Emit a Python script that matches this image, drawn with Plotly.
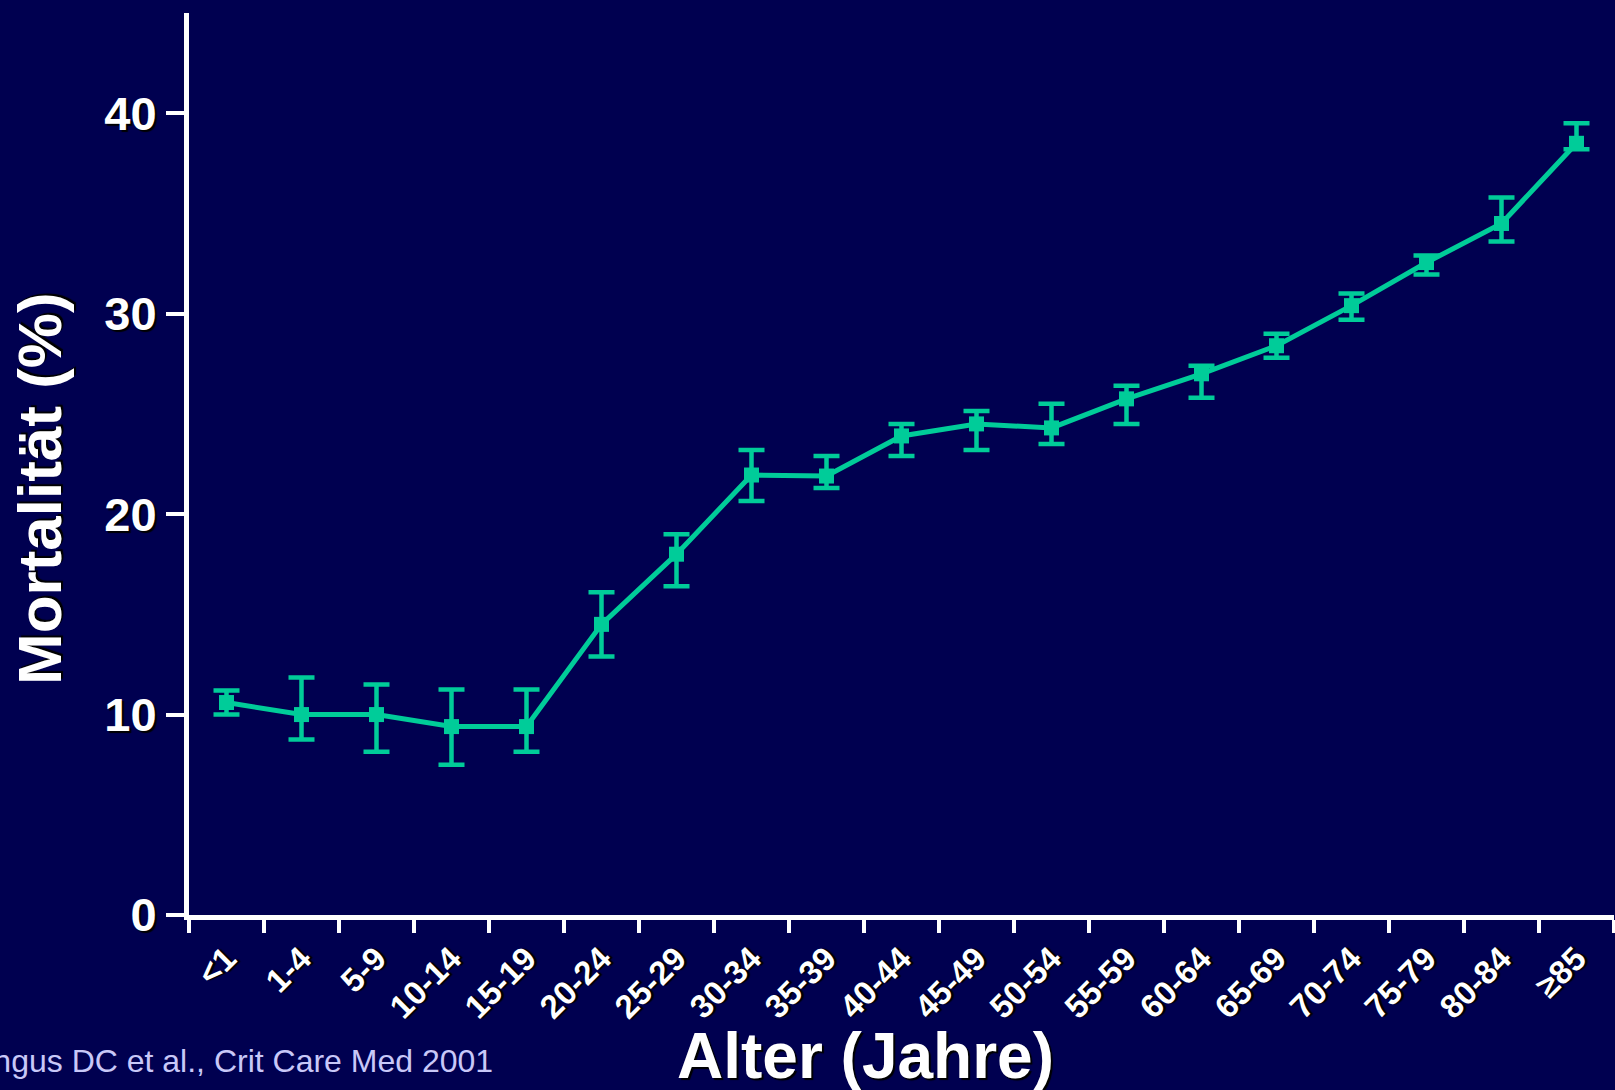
import plotly.graph_objects as go

categories = ["<1", "1-4", "5-9", "10-14", "15-19", "20-24", "25-29", "30-34", "35-39",
              "40-44", "45-49", "50-54", "55-59", "60-64", "65-69", "70-74", "75-79",
              "80-84", "≥85"]
mortality = [10.6, 10.0, 10.0, 9.4, 9.4, 14.5, 18.0, 21.95, 21.9, 23.9, 24.5, 24.3,
             25.75, 27.0, 28.4, 30.4, 32.55, 34.5, 38.5]
ci_upper = [11.2, 11.85, 11.5, 11.25, 11.25, 16.1, 19.0, 23.2, 22.9, 24.5, 25.15, 25.5,
            26.4, 27.4, 29.0, 31.0, 32.9, 35.8, 39.5]
ci_lower = [10.0, 8.75, 8.15, 7.5, 8.15, 12.9, 16.4, 20.65, 21.3, 22.9, 23.2, 23.5,
            24.5, 25.8, 27.8, 29.7, 31.95, 33.6, 38.2]
y_ticks = [0, 10, 20, 30, 40]

BG = "#000050"
TEAL = "#00CC99"
FONT = "Liberation Sans, Arial, sans-serif"
SHADOW = "2px 2px 1px #000000"

W, H = 1615, 1090
ML, MR, MT, MB = 189, 1, 13, 175


def px(x):
    return (x - ML) / (W - ML - MR)


def py(y):
    return (H - MB - y) / (H - MB - MT)


err_plus = [u - m for u, m in zip(ci_upper, mortality)]
err_minus = [m - l for m, l in zip(mortality, ci_lower)]

fig = go.Figure()
fig.add_trace(go.Scatter(
    x=categories, y=mortality, mode="lines+markers",
    line=dict(color=TEAL, width=5),
    marker=dict(symbol="square", size=15, color=TEAL),
    error_y=dict(type="data", symmetric=False, array=err_plus, arrayminus=err_minus,
                 color=TEAL, thickness=4.5, width=13),
    showlegend=False, cliponaxis=False,
))

fig.update_layout(
    width=W, height=H,
    margin=dict(l=ML, r=MR, t=MT, b=MB),
    paper_bgcolor=BG, plot_bgcolor=BG,
    font=dict(family=FONT, color="white"),
    xaxis=dict(
        type="category", categoryorder="array", categoryarray=categories,
        range=[-0.5, 18.5],
        showline=True, linecolor="white", linewidth=5,
        ticks="outside", tickson="boundaries", ticklen=13, tickwidth=4, tickcolor="white",
        tickangle=-45, ticklabelstandoff=6,
        tickfont=dict(family=FONT, size=33, color="white", weight="bold", shadow=SHADOW),
        showgrid=False, zeroline=False,
    ),
    yaxis=dict(
        range=[0, 45], tickvals=y_ticks,
        showline=True, linecolor="white", linewidth=5,
        ticks="outside", ticklen=18, tickwidth=4, tickcolor="white",
        tickfont=dict(family=FONT, size=47, color="white", weight="bold", shadow=SHADOW),
        showgrid=False, zeroline=False,
    ),
    annotations=[
        dict(text="Mortalität (%)", textangle=-90, xref="paper", yref="paper",
             x=px(39), y=py(489), xanchor="center", yanchor="middle", showarrow=False,
             font=dict(family=FONT, size=62, color="white", weight="bold", shadow=SHADOW)),
        dict(text="Alter (Jahre)", xref="paper", yref="paper",
             x=px(865), y=py(1056), xanchor="center", yanchor="middle", showarrow=False,
             font=dict(family=FONT, size=64, color="white", weight="bold", shadow=SHADOW)),
        dict(text="Angus DC et al., Crit Care Med 2001", xref="paper", yref="paper",
             x=px(-30), y=py(1061), xanchor="left", yanchor="middle", showarrow=False,
             font=dict(family=FONT, size=32, color="#C8C8F8")),
    ],
)

fig.write_html("out.html", config={"displayModeBar": False},
               post_script="document.body.style.margin='0';document.body.style.background='#000050';")
